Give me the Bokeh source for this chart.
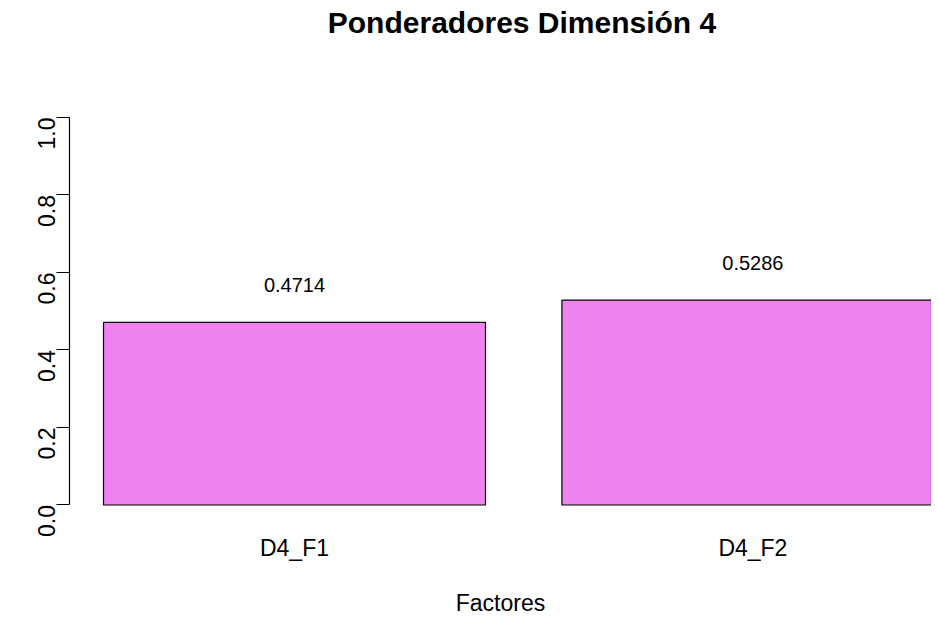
from bokeh.plotting import figure
from bokeh.models import FixedTicker, Range1d, ColumnDataSource
from bokeh.core.properties import value
from bokeh.embed import file_html
from bokeh.resources import INLINE
import math

# Data
categories = ["D4_F1", "D4_F2"]
weights = [0.4714, 0.5286]
y_ticks = [0.0, 0.2, 0.4, 0.6, 0.8, 1.0]
title_text = "Ponderadores Dimensión 4"
x_label = "Factores"

# R barplot geometry: width 1, space 0.2
bar_w = 1.0
space = 0.2
centers = [space + bar_w / 2 + i * (bar_w + space) for i in range(len(categories))]
labels = ["%.4f" % v for v in weights]

FONT = "Liberation Sans"
PX_PER_UNIT_X = 382.0
PX_PER_UNIT_Y = 389.0
W, H = 931, 618
LEFT, BOTTOM = 69, 96
X0 = 0.2 - 34 / PX_PER_UNIT_X
Y0 = -0.04
X1 = X0 + (W - LEFT) / PX_PER_UNIT_X
Y1 = Y0 + (H - BOTTOM) / PX_PER_UNIT_Y   # frame extends to top of canvas (title area)

p = figure(width=W, height=H, output_backend="svg", toolbar_location=None,
           title=None,
           x_range=Range1d(X0, X1), y_range=Range1d(Y0, Y1),
           min_border_left=LEFT, min_border_right=0, min_border_top=0,
           min_border_bottom=BOTTOM)
p.outline_line_color = None
p.grid.visible = False
p.background_fill_color = "white"
p.border_fill_color = "white"

# Title, centred over R's plot region, ~22px below the top edge
title_x = X0 + (521.5 - LEFT) / PX_PER_UNIT_X
title_y = Y0 + (H - BOTTOM - 22) / PX_PER_UNIT_Y
p.text(x=[title_x], y=[title_y], text=[title_text], text_align="center",
       text_baseline="middle", text_font=value(FONT), text_font_size="30px",
       text_font_style="bold", text_color="black")

src = ColumnDataSource(dict(x=centers, top=weights, lab=labels,
                            ly=[w + 0.096 for w in weights]))
p.vbar(x="x", top="top", bottom=0, width=bar_w, source=src,
       fill_color="#EE82EE", line_color="black", line_width=1.2)
p.text(x="x", y="ly", text="lab", source=src, text_align="center",
       text_baseline="middle", text_font=value(FONT), text_font_size="20px",
       text_color="black")

# x axis: names only
xa = p.xaxis[0]
xa.ticker = FixedTicker(ticks=centers)
xa.major_label_overrides = {c: n for c, n in zip(centers, categories)}
xa.axis_line_color = None
xa.major_tick_line_color = None
xa.minor_tick_line_color = None
xa.major_label_text_font = FONT
xa.major_label_text_font_size = "23px"
xa.major_label_text_color = "black"
xa.major_label_standoff = 8
xa.axis_label = x_label
xa.axis_label_text_font = FONT
xa.axis_label_text_font_size = "23px"
xa.axis_label_text_font_style = "normal"
xa.axis_label_text_color = "black"
xa.axis_label_standoff = 26

ya = p.yaxis[0]
ya.ticker = FixedTicker(ticks=y_ticks)
ya.bounds = (y_ticks[0], y_ticks[-1])
ya.major_label_overrides = {v: "%.1f" % v for v in y_ticks}
ya.minor_tick_line_color = None
ya.major_tick_out = 13
ya.major_tick_in = 0
ya.axis_line_color = "black"
ya.axis_line_width = 1.2
ya.major_tick_line_color = "black"
ya.major_tick_line_width = 1.2
ya.major_label_orientation = math.pi / 2
ya.major_label_text_font = FONT
ya.major_label_text_font_size = "23px"
ya.major_label_text_color = "black"
ya.major_label_standoff = 10

open("out.html", "w").write(file_html(p, INLINE))
